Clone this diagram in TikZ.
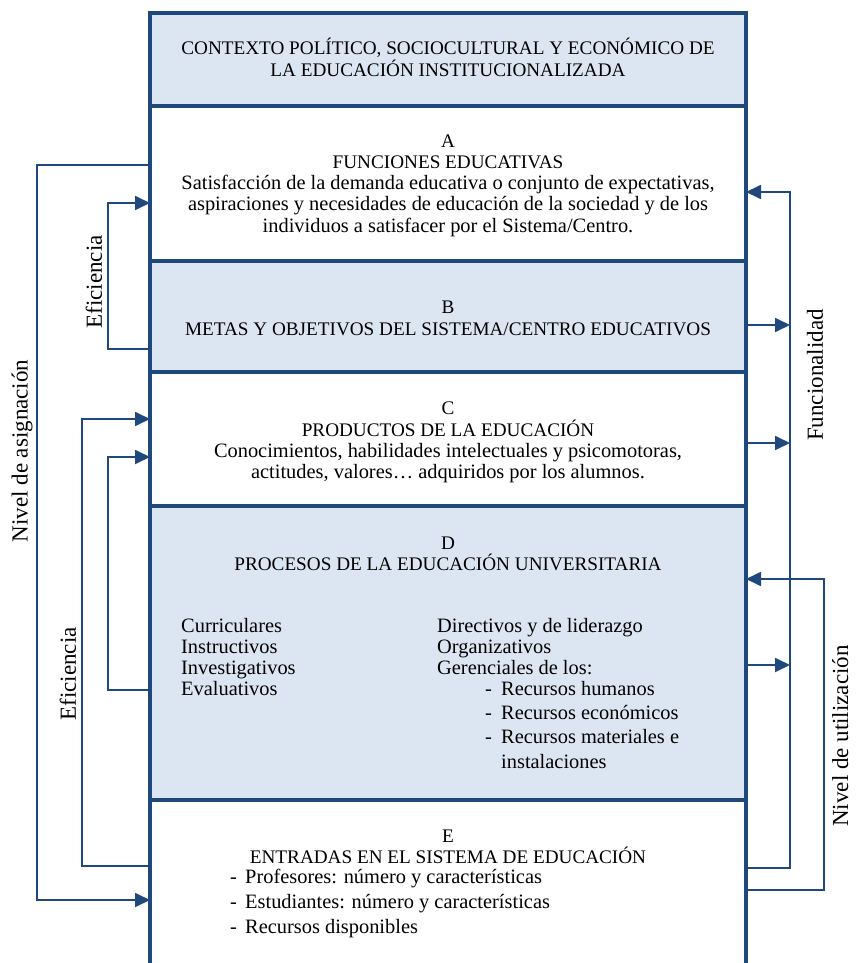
\documentclass[tikz,border=0pt]{standalone}
\usepackage{fontspec}
\setmainfont{Liberation Serif}
\usetikzlibrary{arrows.meta, positioning, calc}
\definecolor{myblue}{RGB}{31,73,125}
\definecolor{lightfill}{RGB}{220,230,242}

\begin{document}
\begin{tikzpicture}[x=1pt,y=-1pt,
    sect/.style={minimum width=596pt, inner sep=0pt, outer sep=0pt, anchor=north west},
    frame/.style={myblue, line width=3.2pt},
    link/.style={myblue, line width=1.8pt},
    tip/.style={-{Triangle[length=15pt,width=14pt]}},
    hd/.style={font=\fontsize{19.2}{21}\selectfont, anchor=base, inner sep=0pt},
    body/.style={font=\fontsize{20.4}{21}\selectfont, anchor=base, inner sep=0pt},
    item/.style={font=\fontsize{20.4}{21}\selectfont, anchor=base west, inner sep=0pt},
    side/.style={font=\fontsize{23}{26}\selectfont, rotate=90, inner sep=0pt}]
    \useasboundingbox (0,0) rectangle (855,963);

    % Sections of the column
    \node[sect, fill=lightfill, minimum height=93pt] (ctx) at (150,13) {};
    \node[sect, minimum height=155pt] (fa) at (150,106) {};
    \node[sect, fill=lightfill, minimum height=111pt] (fb) at (150,261) {};
    \node[sect, minimum height=134pt] (fc) at (150,372) {};
    \node[sect, fill=lightfill, minimum height=294pt] (fd) at (150,506) {};
    \node[sect, minimum height=163pt] (fe) at (150,800) {};

    % Outline and dividers
    \draw[frame] (fe.south west) |- (ctx.north east) -- (fe.south east);
    \foreach \s in {fa,fb,fc,fd,fe} {
        \draw[frame] (\s.north west) -- (\s.north east);
    }

    % Texts of the sections
    \node[hd] (tctx1) at (448,55) {CONTEXTO POLÍTICO, SOCIOCULTURAL Y ECONÓMICO DE};
    \node[hd] (tctx2) at (448,77) {LA EDUCACIÓN INSTITUCIONALIZADA};

    \node[hd] (ta1) at (448,147) {A};
    \node[hd] (ta2) at (448,168) {FUNCIONES EDUCATIVAS};
    \foreach \t [count=\i] in {{Satisfacción de la demanda educativa o conjunto de expectativas,},
        {aspiraciones y necesidades de educación de la sociedad y de los},
        {individuos a satisfacer por el Sistema/Centro.}}
        \node[body] (tal\i) at (448,168.3+21.3*\i) {\t};

    \node[hd] (tb1) at (448,313) {B};
    \node[hd] (tb2) at (448,335) {METAS Y OBJETIVOS DEL SISTEMA/CENTRO EDUCATIVOS};

    \node[hd] (tc1) at (448,414) {C};
    \node[hd] (tc2) at (448,436) {PRODUCTOS DE LA EDUCACIÓN};
    \foreach \t [count=\i] in {{Conocimientos, habilidades intelectuales y psicomotoras,},
        {actitudes, valores… adquiridos por los alumnos.}}
        \node[body] (tcl\i) at (448,436+21*\i) {\t};

    \node[hd] (td1) at (448,549) {D};
    \node[hd] (td2) at (448,570) {PROCESOS DE LA EDUCACIÓN UNIVERSITARIA};
    \foreach \t [count=\i] in {Curriculares, Instructivos, Investigativos, Evaluativos}
        \node[item] (dl\i) at (181,611+21*\i) {\t};
    \foreach \t [count=\i] in {Directivos y de liderazgo, Organizativos, Gerenciales de los:}
        \node[item] (dr\i) at (437,611+21*\i) {\t};
    \foreach \t [count=\i] in {Recursos humanos, Recursos económicos, Recursos materiales e}
        \node[item] (dg\i) at (485,670.7+24.3*\i) {\makebox[16pt][l]{-}\t};
    \node[item] (dg4) at (501,768) {instalaciones};

    \node[hd] (te1) at (448,842) {E};
    \node[hd] (te2) at (448,863) {ENTRADAS EN EL SISTEMA DE EDUCACIÓN};
    \foreach \t [count=\i] in {Profesores: número y características,
        Estudiantes: número y características, Recursos disponibles}
        \node[item] (tel\i) at (230,858+25*\i) {\makebox[15pt][l]{-}\t};

    % Left loops
    \draw[link,tip] ([yshift=18.5pt]fa.west) -- ++(-113,0) |- ([yshift=-18.5pt]fe.west);
    \draw[link,tip] ([yshift=-32.5pt]fb.west) -- ++(-42,0) |- ([yshift=-19.5pt]fa.west);
    \draw[link,tip] ([yshift=15.5pt]fe.west) -- ++(-68,0) |- ([yshift=20pt]fc.west);
    \draw[link,tip] ([yshift=-37pt]fd.west) -- ++(-42,0) |- ([yshift=-18pt]fc.west);

    % Right loops
    \draw[link,tip] ([yshift=13.5pt]fe.east) -- ++(44,0) |- ([yshift=-8.5pt]fa.east);
    \draw[link,tip] ([yshift=-8.5pt]fb.east) -- ++(44,0);
    \draw[link,tip] ([yshift=-4pt]fc.east) -- ++(44,0);
    \draw[link,tip] ([yshift=-12pt]fd.east) -- ++(44,0);
    \draw[link,tip] ([yshift=-8.5pt]fe.east) -- ++(78,0) |- ([yshift=74pt]fd.east);

    % Loop labels
    \node[side] (asig) at (22,451) {Nivel de asignación};
    \node[side] (efia) at (94,282) {Eficiencia};
    \node[side] (efib) at (68,674) {Eficiencia};
    \node[side] (func) at (815,375) {Funcionalidad};
    \node[side, anchor=base] (util) at (848,736) {Nivel de utilización};
\end{tikzpicture}
\end{document}
